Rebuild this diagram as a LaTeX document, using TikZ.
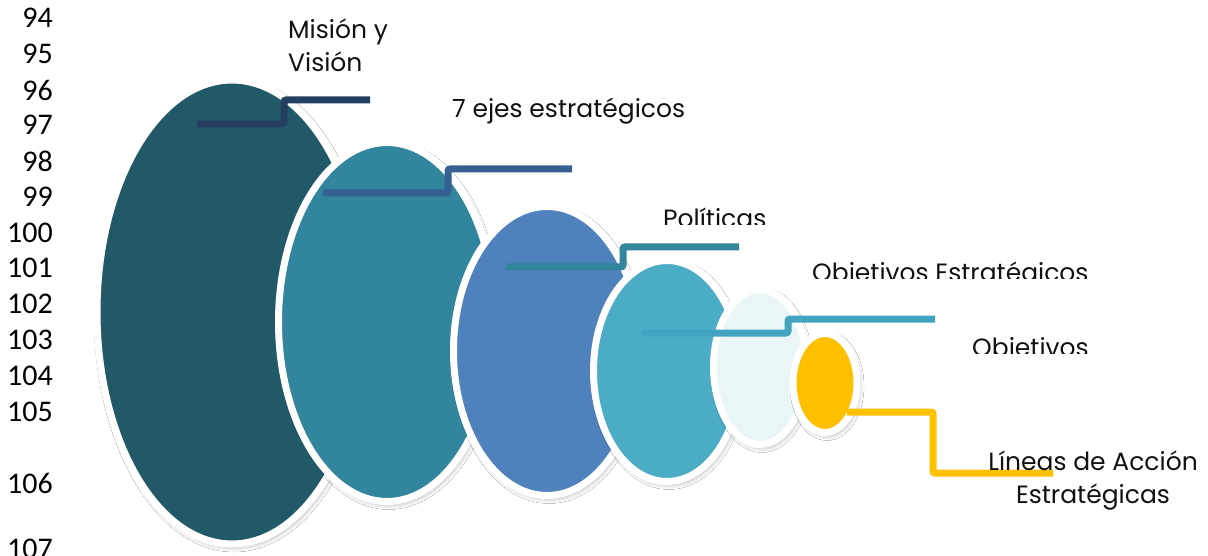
\documentclass[tikz,border=0pt]{standalone}
\usepackage{fontspec}
\setmainfont{Poppins}
\newfontfamily\numfont{Carlito}
\usetikzlibrary{shapes.geometric,shadows.blur}
\definecolor{cA}{HTML}{215968}
\definecolor{cB}{HTML}{31859C}
\definecolor{cC}{HTML}{4F81BD}
\definecolor{cD}{HTML}{4BACC6}
\definecolor{cE}{HTML}{E9F5F6}
\definecolor{cF}{HTML}{FFC000}
\definecolor{lA}{HTML}{243F60}
\definecolor{lB}{HTML}{376092}
\definecolor{lC}{HTML}{31859C}
\definecolor{lD}{HTML}{42A4C0}
\definecolor{txt}{HTML}{111111}
\begin{document}
\begin{tikzpicture}[x=1pt,y=-1pt,
  blob/.style={ellipse,draw=white,line width=7pt,inner sep=0pt,
    blur shadow={shadow xshift=2pt,shadow yshift=-3pt,shadow blur radius=5pt,shadow opacity=35}},
  conn/.style={line width=7pt,rounded corners=2pt},
  lbl/.style={text=txt,inner sep=0pt,font=\fontsize{25}{33}\selectfont},
  num/.style={anchor=east,inner sep=0pt,font=\numfont\fontsize{30}{30}\selectfont}]
\useasboundingbox (0,0) rectangle (1208,556);
\fill[white] (0,0) rectangle (1208,556);
% row numbers
\foreach \n/\y in {94/18,95/54,96/90,97/125,98/161,99/197,100/233,101/268,102/304,103/340,104/376,105/412,106/483,107/549}
  \node[num] (n\n) at (53,\y) {\n};
% ellipses
\node[blob,fill=cA,minimum width=270,minimum height=464] (e1) at (232,312) {};
\node[blob,fill=cB,minimum width=217,minimum height=359] (e2) at (387,322) {};
\node[blob,fill=cC,minimum width=187,minimum height=289] (e3) at (547,351) {};
\node[blob,fill=cD,minimum width=147,minimum height=221] (e4) at (667,371) {};
\node[blob,fill=cE,minimum width=93,minimum height=155] (e5) at (760,367) {};
\node[blob,fill=cF,minimum width=64,minimum height=99] (e6) at (825,383) {};
% connector ends
\coordinate (a1) at (197,124); \coordinate (b1) at (370,100);
\coordinate (a2) at (323,193); \coordinate (b2) at (572,169);
\coordinate (a3) at (506,267); \coordinate (b3) at (739,247);
\coordinate (a4) at (642,333); \coordinate (b4) at (935,319);
\coordinate (a5) at (847,412); \coordinate (b5) at (1053,473);
\draw[conn,lA] (a1) -- (284,124) -- (284,100) -- (b1);
\draw[conn,lB] (a2) -- (448,193) -- (448,169) -- (b2);
\draw[conn,lC] (a3) -- (623,267) -- (623,247) -- (b3);
\draw[conn,lD] (a4) -- (788,333) -- (788,319) -- (b4);
\draw[conn,cF] (a5) -- (933,412) -- (933,473) -- (b5);
% labels
\node[lbl,anchor=base west,align=left] (t1) at (288,72) {Misión y\\Visión};
\node[lbl,anchor=base west] (t2) at (452,118) {7 ejes estratégicos};
\begin{scope}
\clip (600,190) rectangle (900,225);
\node[lbl,anchor=base west] (t3) at (663,228) {Políticas};
\end{scope}
\begin{scope}
\clip (780,240) rectangle (1200,279);
\node[lbl,anchor=base west] (t4) at (812,281) {Objetivos Estratégicos};
\end{scope}
\begin{scope}
\clip (940,320) rectangle (1200,353);
\node[lbl,anchor=base west] (t5) at (972,356) {Objetivos};
\end{scope}
\node[lbl,anchor=base,align=center] (t6) at (1093,503) {Líneas de Acción\\Estratégicas};
\end{tikzpicture}
\end{document}
